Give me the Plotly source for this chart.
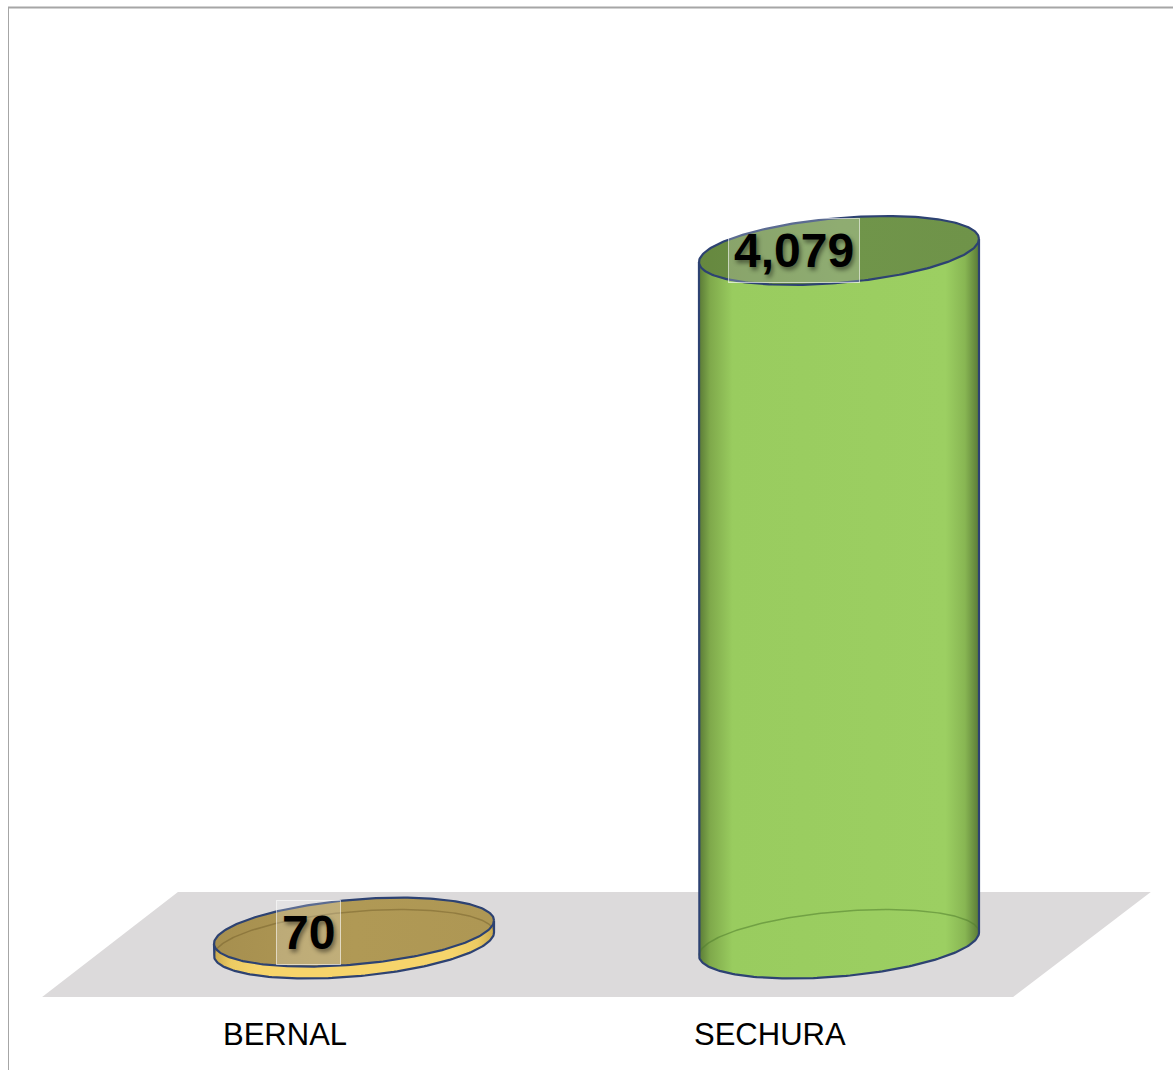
import numpy as np
import plotly.graph_objects as go

# ---------------- data ----------------
categories = ["BERNAL", "SECHURA"]
values = [70, 4079]
value_labels = ["70", "4,079"]

# ---------------- styles ----------------
side_scales = [
    [[0, "#c9a94e"], [0.06, "#eccb63"], [0.15, "#f6d46b"], [0.85, "#f6d46b"], [0.94, "#eccb63"], [1, "#c9a94e"]],
    [[0, "#5a7a36"], [0.04, "#7fa94b"], [0.12, "#99cc5f"], [0.88, "#9ccf62"], [0.95, "#88b653"], [1, "#5a7a36"]],
]
top_scales = [
    [[0, "#a68f4f"], [0.5, "#b09955"], [1, "#ae9754"]],
    [[0, "#66883f"], [0.5, "#70954a"], [1, "#6f9349"]],
]
back_line_colors = ["rgba(110,90,40,0.45)", "rgba(80,125,45,0.55)"]
OUTLINE = "#2d4272"

W, H = 1173, 1070
X_RANGE = [-0.7299, 1.6887]
Y_RANGE = [-741.0, 5552.0]
A = 0.2887          # ellipse half-width (x units)
B = 191.0           # ellipse half-height (y units)
TILT = 68.0         # rise of the right end (y units)
LABEL_DX = -0.093
CAT_DX = -0.142
CAT_Y = -535.0

t = np.linspace(0, 2 * np.pi, 241)


def ell(cx, cy, tt):
    return cx + A * np.cos(tt), cy + B * np.sin(tt) + TILT * np.cos(tt)


fig = go.Figure()

# floor (decoration under the bars)
floor_x = [-0.643, 1.359, 1.643, -0.363, -0.643]
floor_y = [-312, -312, 306, 306, -312]
fig.add_trace(go.Scatter(x=floor_x, y=floor_y, fill="toself", fillcolor="#dcdadb",
                         line=dict(width=0), mode="lines", hoverinfo="skip", showlegend=False))

for i, (cat, v) in enumerate(zip(categories, values)):
    cx = i
    # base ellipse fill
    bx, by = ell(cx, 0, t)
    fig.add_trace(go.Scatter(x=bx, y=by, fill="toself", mode="lines", line=dict(width=0),
                             fillgradient=dict(type="horizontal", colorscale=side_scales[i]),
                             hoverinfo="skip", showlegend=False))
    # side body
    tf = np.linspace(np.pi, 2 * np.pi, 121)
    x1, y1 = ell(cx, 0, tf)
    x2, y2 = ell(cx, v, tf[::-1])
    sx = np.concatenate([x1, x2, x1[:1]])
    sy = np.concatenate([y1, y2, y1[:1]])
    fig.add_trace(go.Scatter(x=sx, y=sy, fill="toself", mode="lines", line=dict(width=0),
                             fillgradient=dict(type="horizontal", colorscale=side_scales[i]),
                             hoverinfo="skip", showlegend=False))
    # top ellipse
    tx, ty = ell(cx, v, t)
    fig.add_trace(go.Scatter(x=tx, y=ty, fill="toself", mode="lines", line=dict(width=0),
                             fillgradient=dict(type="horizontal", colorscale=top_scales[i]),
                             hoverinfo="skip", showlegend=False))
    # faint back edge of base
    tb = np.linspace(0, np.pi, 121)
    kx, ky = ell(cx, 0, tb)
    fig.add_trace(go.Scatter(x=kx, y=ky, mode="lines", line=dict(color=back_line_colors[i], width=1.5),
                             hoverinfo="skip", showlegend=False))
    # outlines: side + bottom front arc
    ox = np.concatenate([[x2[-1]], x1, [x2[0]]])
    oy = np.concatenate([[y2[-1]], y1, [y2[0]]])
    fig.add_trace(go.Scatter(x=ox, y=oy, mode="lines", line=dict(color=OUTLINE, width=2.2),
                             hoverinfo="skip", showlegend=False))
    fig.add_trace(go.Scatter(x=tx, y=ty, mode="lines", line=dict(color=OUTLINE, width=2.2),
                             hoverinfo="skip", showlegend=False))

    # value label
    fig.add_annotation(x=cx + LABEL_DX, y=v, text="<b>%s</b>" % value_labels[i], showarrow=False,
                       xanchor="center", yanchor="middle",
                       font=dict(family="Liberation Sans, Arial", size=48, color="black",
                                 shadow="2px 3px 4px rgba(0,0,0,0.45)"),
                       bgcolor="rgba(255,255,255,0.22)", bordercolor="rgba(255,255,255,0.6)",
                       borderwidth=1, borderpad=5)
    # category label
    fig.add_annotation(x=cx + CAT_DX, y=CAT_Y, text=cat, showarrow=False,
                       xanchor="center", yanchor="middle",
                       font=dict(family="Liberation Sans, Arial", size=31, color="black"))

# chart frame
fig.add_shape(type="line", xref="paper", yref="paper", x0=8 / W, x1=1, y0=1 - 7.5 / H, y1=1 - 7.5 / H,
              line=dict(color="#a6a6a6", width=2))
fig.add_shape(type="line", xref="paper", yref="paper", x0=8.5 / W, x1=8.5 / W, y0=0, y1=1 - 7.5 / H,
              line=dict(color="#a6a6a6", width=1))

fig.update_layout(
    width=W, height=H, autosize=False,
    margin=dict(l=0, r=0, t=0, b=0),
    paper_bgcolor="white", plot_bgcolor="white",
    xaxis=dict(range=X_RANGE, visible=False, fixedrange=True),
    yaxis=dict(range=Y_RANGE, visible=False, fixedrange=True),
    showlegend=False,
)

fig.write_html("out.html", config={"displayModeBar": False},
               post_script="document.body.style.margin='0';document.body.style.overflow='hidden';")
